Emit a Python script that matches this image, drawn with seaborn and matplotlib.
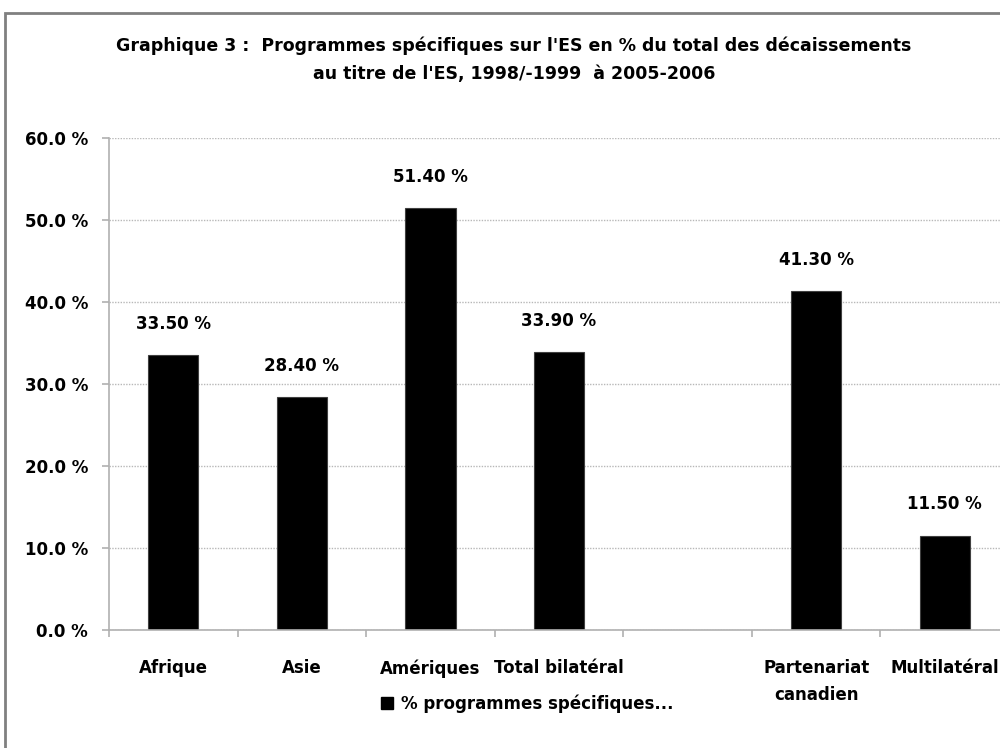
import matplotlib
matplotlib.use("Agg")
import matplotlib.pyplot as plt
import seaborn as sns
import pandas as pd
import numpy as np
from matplotlib.patches import Rectangle
from matplotlib.lines import Line2D

categories = ["Afrique", "Asie", "Amériques", "Total bilatéral", " ",
              "Partenariat\ncanadien", "Multilatéral"]
values = [33.5, 28.4, 51.4, 33.9, np.nan, 41.3, 11.5]
value_labels = ["33.50 %", "28.40 %", "51.40 %", "33.90 %", "", "41.30 %", "11.50 %"]
yticks = [0, 10, 20, 30, 40, 50, 60]
title = "Graphique 3 :  Programmes spécifiques sur l'ES en % du total des décaissements\nau titre de l'ES, 1998/-1999  à 2005-2006"
legend_label = "% programmes spécifiques..."

sns.set_style("white")
plt.rcParams['font.family'] = ['DejaVu Sans']
plt.rcParams['font.weight'] = 'bold'
plt.rcParams['text.color'] = 'black'
plt.rcParams['xtick.color'] = 'black'
plt.rcParams['ytick.color'] = 'black'
plt.rcParams['xtick.labelcolor'] = 'black'
plt.rcParams['ytick.labelcolor'] = 'black'

df = pd.DataFrame({"cat": categories, "val": values})

fig = plt.figure(figsize=(10, 7.48), dpi=100)
ax = fig.add_axes([0.109, 0.1578, 0.900, 0.6578])

sns.barplot(data=df, x="cat", y="val", order=categories, color="black",
            width=0.39, ax=ax, edgecolor="#404040", linewidth=0.8, saturation=1)

ax.set_ylim(0, 60)
ax.set_xlim(-0.5, len(categories) - 0.5)
ax.set_yticks(yticks)
ax.set_yticklabels([f"{v:.1f} %" for v in yticks], fontsize=12, fontweight='bold')
ax.yaxis.grid(True, linestyle=(0, (1, 1)), color="#b8b8b8", linewidth=1)
ax.set_axisbelow(True)
ax.set_xlabel("")
ax.set_ylabel("")

for s in ["top", "right"]:
    ax.spines[s].set_visible(False)
for s in ["left", "bottom"]:
    ax.spines[s].set_color("#b0b0b0")
    ax.spines[s].set_linewidth(1.2)

ax.tick_params(axis="y", which="major", length=5, color="#b0b0b0", width=1.2, pad=10, left=True)
ax.set_xticks(range(len(categories)))
ax.set_xticklabels(categories, fontsize=12, fontweight='bold', linespacing=1.6, va="top")
ax.tick_params(axis="x", which="major", length=0, pad=21)
ax.set_xticks(np.arange(-0.5, len(categories), 1.0), minor=True)
ax.tick_params(axis="x", which="minor", length=5, color="#b0b0b0", width=1.2, bottom=True)

for i, (v, lab) in enumerate(zip(values, value_labels)):
    if not np.isnan(v):
        ax.annotate(lab, (i, v), xytext=(0, 22.5), textcoords="offset points",
                    ha="center", va="center", fontsize=12, fontweight='bold')

fig.text(0.514, 0.92, title, ha="center", va="center", fontsize=12.5,
         fontweight='bold', linespacing=1.7)

handle = Line2D([], [], marker="s", color="black", linestyle="None", markersize=9)
fig.legend([handle], [legend_label], loc="center", bbox_to_anchor=(0.527, 0.059),
           frameon=False, handletextpad=0.4, handlelength=0.8,
           prop={'weight': 'bold', 'size': 12})

fig.patches.append(Rectangle((0.005, -0.1), 1.2, 0.1 + (748 - 13) / 748,
                             transform=fig.transFigure, fill=False,
                             edgecolor="#808080", linewidth=2))

fig.savefig("out.png", dpi=100)
